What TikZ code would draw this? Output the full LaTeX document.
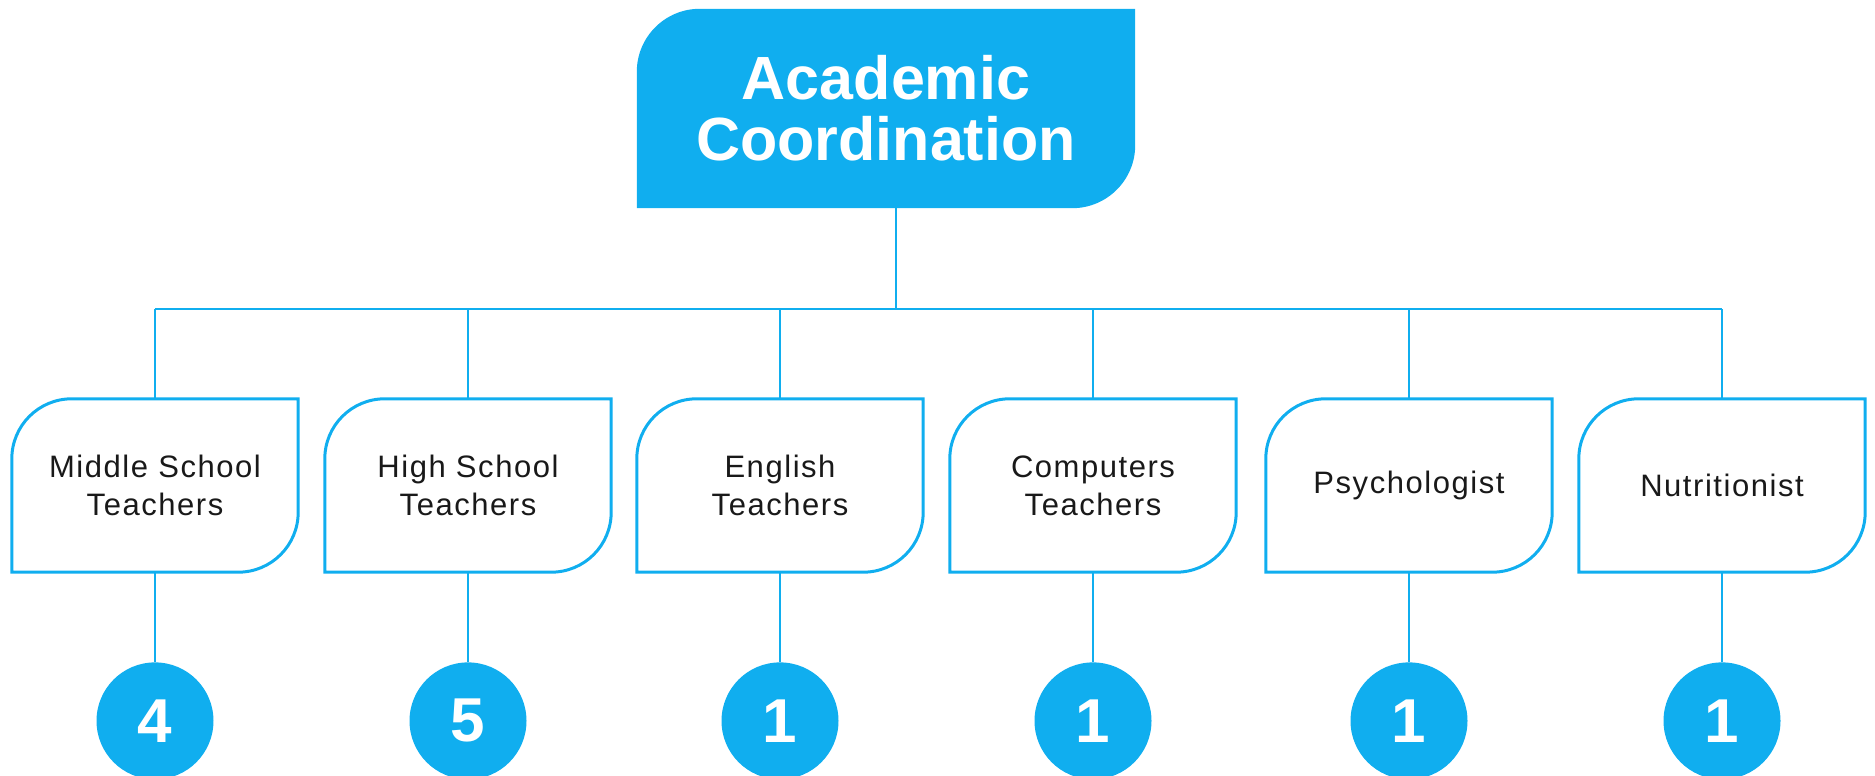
\documentclass[tikz,border=0pt]{standalone}
\usepackage{fontspec}
\setmainfont{Liberation Sans}
\usepackage{xcolor}
\usetikzlibrary{positioning, calc, backgrounds}
\definecolor{coordblue}{HTML}{10AEEF}

\begin{document}
\begin{tikzpicture}[
        x=1pt, y=1pt,
        staff/.style={minimum width=286pt, minimum height=173pt, inner sep=0pt, align=center, text=black!90, font=\fontsize{31}{38}\selectfont\addfontfeature{LetterSpace=5}},
        count/.style={circle, fill=coordblue, minimum size=117pt, inner sep=0pt, text=white, font=\bfseries\fontsize{62}{62}\selectfont},
        link/.style={draw=coordblue, line width=2pt},
        outline/.style={draw=coordblue, line width=3pt}
    ]
        \useasboundingbox (0,0) rectangle (1875,776);

        % Head
        \node[minimum width=498pt, minimum height=199pt, inner sep=0pt, align=center, text=white, font=\bfseries\fontsize{61}{61}\selectfont] (head) at (886,667.5) {Academic\\Coordination};
        \begin{scope}[on background layer]
            \fill[coordblue] (head.south west) -- ([yshift=-63pt]head.north west) arc[start angle=180, end angle=90, radius=63pt] -- (head.north east) -- ([yshift=63pt]head.south east) arc[start angle=0, end angle=-90, radius=63pt] -- cycle;
        \end{scope}

        % Staff boxes
        \node[staff] (ms) at (155,290.5) {Middle School\\Teachers};
        \node[staff] (hs) at (468,290.5) {High School\\Teachers};
        \node[staff] (en) at (780,290.5) {English\\Teachers};
        \node[staff] (co) at (1093,290.5) {Computers\\Teachers};
        \node[staff] (ps) at (1409,290.5) {Psychologist};
        \node[staff] (nu) at (1722,290.5) {Nutritionist};

        % Counts
        \node[count, below=90pt of ms] (cms) {4};
        \node[count, below=90pt of hs] (chs) {5};
        \node[count, below=90pt of en] (cen) {1};
        \node[count, below=90pt of co] (cco) {1};
        \node[count, below=90pt of ps] (cps) {1};
        \node[count, below=90pt of nu] (cnu) {1};

        % Links
        \coordinate (bus) at (896,467);
        \draw[link] ([xshift=10pt]head.south) -- (bus);
        \draw[link] (ms.north |- bus) -- (nu.north |- bus);
        \foreach \n in {ms,hs,en,co,ps,nu} {
            \draw[outline] (\n.south west) -- ([yshift=-60pt]\n.north west) arc[start angle=180, end angle=90, radius=60pt] -- (\n.north east) -- ([yshift=60pt]\n.south east) arc[start angle=0, end angle=-90, radius=60pt] -- cycle;
            \draw[link] (\n.north) -- (\n.north |- bus);
            \draw[link] (\n.south) -- (c\n.north);
        }

    \end{tikzpicture}
\end{document}
